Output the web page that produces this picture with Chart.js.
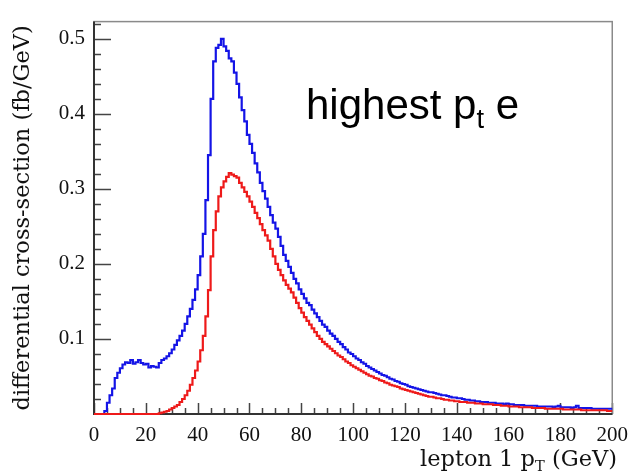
<!DOCTYPE html>
<html>
<head>
<meta charset="utf-8">
<script src="https://cdn.jsdelivr.net/npm/chart.js@4"></script>
<style>
html, body { margin: 0; padding: 0; background: #fff; }
#wrap { position: relative; width: 637px; height: 475px; }
#note { position: absolute; left: 306px; top: 84px; font-family: "Liberation Sans", Arial, sans-serif; font-size: 42px; line-height: 1; color: #000; white-space: nowrap; }
#xtitle { position: absolute; right: 20px; top: 447px; font-family: "DejaVu Serif", serif; font-size: 22.5px; line-height: 1; color: #111; white-space: nowrap; }
.sub { font-size: 0.65em; position: relative; top: 0.32em; }
</style>
</head>
<body>
<div id="wrap">
	<canvas id="ptChart" width="637" height="475"></canvas>
	<div id="note">highest p<span class="sub">t</span> e</div>
	<div id="xtitle">lepton 1 p<span class="sub">T</span> (GeV)</div>
</div>
<script>
// lower edge of each 1 GeV bin
const binEdges = [
	0, 1, 2, 3, 4, 5, 6, 7, 8, 9, 10, 11, 12, 13, 14, 15, 16, 17, 18, 19,
	20, 21, 22, 23, 24, 25, 26, 27, 28, 29, 30, 31, 32, 33, 34, 35, 36, 37, 38, 39,
	40, 41, 42, 43, 44, 45, 46, 47, 48, 49, 50, 51, 52, 53, 54, 55, 56, 57, 58, 59,
	60, 61, 62, 63, 64, 65, 66, 67, 68, 69, 70, 71, 72, 73, 74, 75, 76, 77, 78, 79,
	80, 81, 82, 83, 84, 85, 86, 87, 88, 89, 90, 91, 92, 93, 94, 95, 96, 97, 98, 99,
	100, 101, 102, 103, 104, 105, 106, 107, 108, 109, 110, 111, 112, 113, 114, 115, 116, 117, 118, 119,
	120, 121, 122, 123, 124, 125, 126, 127, 128, 129, 130, 131, 132, 133, 134, 135, 136, 137, 138, 139,
	140, 141, 142, 143, 144, 145, 146, 147, 148, 149, 150, 151, 152, 153, 154, 155, 156, 157, 158, 159,
	160, 161, 162, 163, 164, 165, 166, 167, 168, 169, 170, 171, 172, 173, 174, 175, 176, 177, 178, 179,
	180, 181, 182, 183, 184, 185, 186, 187, 188, 189, 190, 191, 192, 193, 194, 195, 196, 197, 198, 199];
const lastEdge = 200;

// blue histogram (fb/GeV)
const blueValues = [
	0, 0, 0, 0, 0, 0.004, 0.015, 0.025, 0.034, 0.048,
	0.055, 0.061, 0.066, 0.069, 0.068, 0.072, 0.067, 0.069, 0.072, 0.068,
	0.066, 0.067, 0.062, 0.064, 0.063, 0.062, 0.068, 0.072, 0.074, 0.077,
	0.081, 0.086, 0.092, 0.098, 0.104, 0.111, 0.120, 0.130, 0.140, 0.152,
	0.166, 0.185, 0.210, 0.240, 0.285, 0.345, 0.420, 0.470, 0.488, 0.492,
	0.500, 0.490, 0.484, 0.474, 0.470, 0.455, 0.440, 0.422, 0.405, 0.390,
	0.372, 0.360, 0.348, 0.334, 0.322, 0.308, 0.297, 0.287, 0.276, 0.265,
	0.255, 0.247, 0.236, 0.224, 0.212, 0.204, 0.196, 0.188, 0.180, 0.174,
	0.166, 0.160, 0.154, 0.148, 0.145, 0.139, 0.134, 0.129, 0.124, 0.119,
	0.116, 0.111, 0.107, 0.104, 0.100, 0.096, 0.093, 0.089, 0.086, 0.082,
	0.080, 0.077, 0.074, 0.072, 0.069, 0.067, 0.064, 0.062, 0.060, 0.058,
	0.056, 0.054, 0.052, 0.051, 0.049, 0.047, 0.046, 0.044, 0.043, 0.041,
	0.040, 0.039, 0.037, 0.036, 0.035, 0.034, 0.033, 0.032, 0.031, 0.030,
	0.029, 0.029, 0.028, 0.027, 0.026, 0.025, 0.025, 0.024, 0.023, 0.022,
	0.022, 0.021, 0.021, 0.020, 0.019, 0.019, 0.018, 0.018, 0.017, 0.017,
	0.016, 0.016, 0.016, 0.015, 0.015, 0.015, 0.014, 0.014, 0.014, 0.013,
	0.014, 0.013, 0.013, 0.012, 0.012, 0.012, 0.012, 0.011, 0.011, 0.011,
	0.011, 0.011, 0.010, 0.010, 0.010, 0.010, 0.010, 0.010, 0.009, 0.010,
	0.011, 0.009, 0.009, 0.009, 0.009, 0.008, 0.009, 0.011, 0.008, 0.008,
	0.008, 0.008, 0.008, 0.007, 0.007, 0.007, 0.007, 0.007, 0.007, 0.007];

// red histogram (fb/GeV)
const redValues = [
	0, 0, 0, 0, 0, 0, 0, 0, 0, 0,
	0, 0, 0, 0, 0, 0, 0, 0, 0, 0,
	0, 0, 0, 0, 0, 0, 0.001, 0.002, 0.003, 0.004,
	0.006, 0.008, 0.010, 0.012, 0.016, 0.020, 0.025, 0.031, 0.039, 0.048,
	0.058, 0.070, 0.085, 0.104, 0.130, 0.165, 0.210, 0.245, 0.270, 0.290,
	0.302, 0.310, 0.316, 0.321, 0.319, 0.317, 0.315, 0.308, 0.302, 0.296,
	0.290, 0.283, 0.276, 0.268, 0.261, 0.253, 0.245, 0.238, 0.231, 0.220,
	0.210, 0.200, 0.192, 0.185, 0.178, 0.172, 0.167, 0.162, 0.155, 0.148,
	0.141, 0.135, 0.129, 0.124, 0.119, 0.114, 0.109, 0.104, 0.100, 0.096,
	0.093, 0.090, 0.087, 0.084, 0.081, 0.078, 0.076, 0.073, 0.070, 0.068,
	0.065, 0.063, 0.061, 0.059, 0.057, 0.055, 0.053, 0.051, 0.050, 0.048,
	0.047, 0.045, 0.044, 0.042, 0.041, 0.039, 0.038, 0.037, 0.036, 0.034,
	0.033, 0.032, 0.031, 0.030, 0.029, 0.028, 0.027, 0.026, 0.025, 0.024,
	0.023, 0.023, 0.022, 0.021, 0.021, 0.020, 0.019, 0.019, 0.018, 0.018,
	0.017, 0.017, 0.016, 0.016, 0.016, 0.015, 0.015, 0.015, 0.014, 0.014,
	0.014, 0.013, 0.013, 0.013, 0.013, 0.012, 0.012, 0.012, 0.011, 0.011,
	0.011, 0.010, 0.010, 0.010, 0.010, 0.009, 0.009, 0.009, 0.009, 0.009,
	0.008, 0.008, 0.008, 0.008, 0.008, 0.007, 0.007, 0.007, 0.007, 0.007,
	0.007, 0.007, 0.006, 0.006, 0.006, 0.006, 0.006, 0.006, 0.006, 0.005,
	0.005, 0.005, 0.005, 0.005, 0.005, 0.005, 0.005, 0.005, 0.005, 0.004];

const xTicks = [0, 20, 40, 60, 80, 100, 120, 140, 160, 180, 200];
const yTicks = [0.1, 0.2, 0.3, 0.4, 0.5];

const toSteps = (values) => {
	const points = [];
	values.map((v, i) => {
		points.push({ x: binEdges[i], y: v });
	});
	points.push({ x: lastEdge, y: values[values.length - 1] });
	return points;
};

// frame + ticks pointing into the plot, ROOT style
const insideTicks = {
	id: 'insideTicks',
	beforeDatasetsDraw(chart) {
		const { ctx, chartArea: a, scales } = chart;
		const xs = scales.x;
		const ys = scales.y;
		ctx.save();
		ctx.strokeStyle = '#444';
		ctx.lineWidth = 1.5;
		ctx.beginPath();
		for (let v = 0; v <= 200; v += 5) {
			const px = Math.round(xs.getPixelForValue(v)) + 0.5;
			const len = v % 20 === 0 ? 11 : 6;
			ctx.moveTo(px, a.bottom);
			ctx.lineTo(px, a.bottom - len);
		}
		for (let k = 1; k <= 26; k++) {
			const py = Math.round(ys.getPixelForValue(k * 0.02)) + 0.5;
			const len = k % 5 === 0 ? 17 : 7;
			ctx.moveTo(a.left, py);
			ctx.lineTo(a.left + len, py);
		}
		ctx.stroke();

		ctx.strokeStyle = '#8a8a8a';
		ctx.lineWidth = 1.5;
		ctx.strokeRect(a.left, a.top, a.right - a.left, a.bottom - a.top);
		ctx.strokeStyle = '#333';
		ctx.lineWidth = 2;
		ctx.beginPath();
		ctx.moveTo(a.left, a.top);
		ctx.lineTo(a.left, a.bottom);
		ctx.lineTo(a.right, a.bottom);
		ctx.stroke();
		ctx.restore();
	},
};

const serif = '"Liberation Serif", "Times New Roman", serif';

const config = {
	type: 'line',
	data: {
		datasets: [
			{
				label: 'highest pt e',
				data: toSteps(redValues),
				stepped: 'after',
				borderColor: '#ee1a1a',
				borderWidth: 2.2,
				pointRadius: 0,
				fill: false,
				clip: 3,
			},
			{
				label: 'all',
				data: toSteps(blueValues),
				stepped: 'after',
				borderColor: '#1414e6',
				borderWidth: 2.2,
				pointRadius: 0,
				fill: false,
				clip: 3,
			},
		],
	},
	options: {
		responsive: false,
		animation: false,
		layout: { padding: { top: 13, right: 18, left: 0, bottom: 0 } },
		plugins: { legend: { display: false }, tooltip: { enabled: false } },
		scales: {
			x: {
				type: 'linear',
				min: 0,
				max: 200,
				afterFit: (s) => { s.height = 61; },
				afterBuildTicks: (s) => { s.ticks = xTicks.map((v) => ({ value: v })); },
				grid: { display: false, drawTicks: false },
				border: { display: false },
				ticks: {
					padding: 9,
					color: '#111',
					maxRotation: 0,
					font: { family: serif, size: 21 },
				},
			},
			y: {
				min: 0,
				max: 0.523,
				afterFit: (s) => { s.width = 94; },
				afterBuildTicks: (s) => { s.ticks = yTicks.map((v) => ({ value: v })); },
				grid: { display: false, drawTicks: false },
				border: { display: false },
				ticks: {
					padding: 9,
					color: '#111',
					callback: (v) => v.toFixed(1),
					font: { family: serif, size: 21 },
				},
				title: {
					display: true,
					text: 'differential cross-section (fb/GeV)',
					color: '#111',
					padding: { top: 10, bottom: 0 },
					font: { family: '"DejaVu Serif", serif', size: 22.5 },
				},
			},
		},
	},
	plugins: [insideTicks],
};

const ctx = document.getElementById('ptChart').getContext('2d');
const myChart = new Chart(ctx, config);
</script>
</body>
</html>
